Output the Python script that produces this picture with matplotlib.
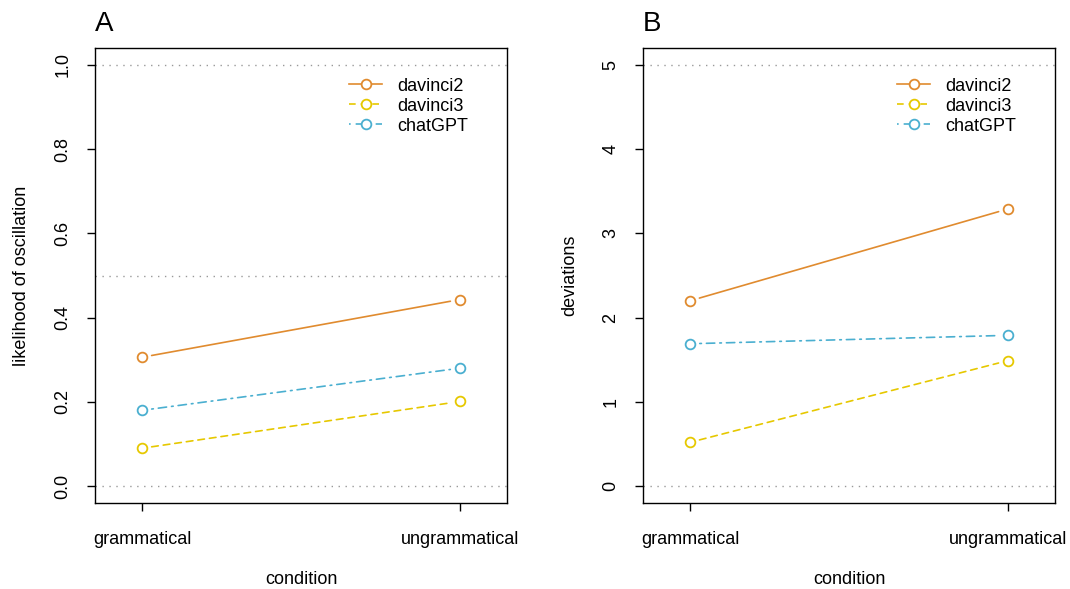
import matplotlib.pyplot as plt
from matplotlib.lines import Line2D

plt.rcParams['font.family'] = ['Liberation Sans', 'DejaVu Sans']

conditions = ['grammatical', 'ungrammatical']
models = ['davinci2', 'davinci3', 'chatGPT']

# panel A: likelihood of oscillation
osc_davinci2 = [0.306, 0.443]
osc_davinci3 = [0.090, 0.201]
osc_chatgpt = [0.180, 0.280]

# panel B: deviations
dev_davinci2 = [2.20, 3.29]
dev_davinci3 = [0.52, 1.49]
dev_chatgpt = [1.69, 1.79]

colors = ['#E08B2F', '#E6C800', '#4AAFD0']
styles = ['-', (0, (4, 3)), (0, (1, 3, 5, 3))]

W, H = 1070, 589
fig = plt.figure(figsize=(W / 100, H / 100), dpi=100)


def panel(left, ylabel, series, ylim, yticks, ref_lines, letter):
    ax = fig.add_axes([left / W, (H - 503) / H, 412 / W, 455 / H])
    x = [1, 2]
    for vals, c, ls in zip(series, colors, styles):
        ax.annotate('', xy=(x[1], vals[1]), xytext=(x[0], vals[0]),
                    arrowprops=dict(arrowstyle='-', color=c, lw=1.2, linestyle=ls,
                                    shrinkA=7, shrinkB=7))
        ax.plot(x, vals, 'o', ms=7, mfc='white', mec=c, mew=1.3, zorder=3)
    for r in ref_lines:
        ax.axhline(r, color='#999999', ls=(0, (1, 4)), lw=1.0, zorder=0)
    ax.set_xlim(0.852, 2.148)
    ax.set_ylim(*ylim)
    ax.set_xticks(x)
    ax.set_xticklabels(conditions, fontsize=13)
    ax.set_yticks(yticks)
    ax.set_yticklabels([str(t) for t in yticks], fontsize=13, rotation=90, va='center')
    ax.tick_params(length=6, width=1)
    ax.tick_params(axis='x', pad=14)
    ax.tick_params(axis='y', pad=11)
    ax.set_xlabel('condition', fontsize=13, labelpad=17)
    ax.set_ylabel(ylabel, fontsize=13, labelpad=17.5)
    for s in ax.spines.values():
        s.set_linewidth(1.0)
    handles = [Line2D([0], [0], color=c, ls=ls, lw=1.2, marker='o', ms=7,
                      mfc='white', mec=c, mew=1.3) for c, ls in zip(colors, styles)]
    ax.legend(handles, models, loc='upper left', bbox_to_anchor=(0.6, 0.951),
              frameon=False, fontsize=13, handlelength=1.8, handletextpad=0.85,
              labelspacing=0.17, borderaxespad=0)
    ax.text(0, 1.025, letter, transform=ax.transAxes, fontsize=20, ha='left', va='bottom')
    return ax


panel(95, 'likelihood of oscillation', [osc_davinci2, osc_davinci3, osc_chatgpt],
      (-0.04, 1.04), [0.0, 0.2, 0.4, 0.6, 0.8, 1.0], [0, 0.5, 1.0], 'A')
panel(643, 'deviations', [dev_davinci2, dev_davinci3, dev_chatgpt],
      (-0.2, 5.2), [0, 1, 2, 3, 4, 5], [0, 5], 'B')

fig.savefig('out.png', dpi=100)
